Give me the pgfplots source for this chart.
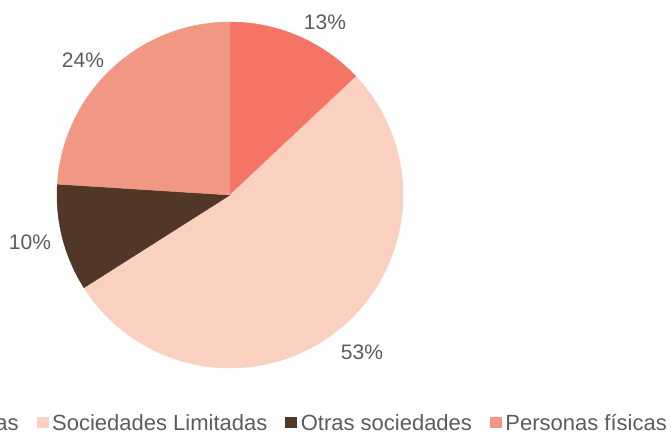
\documentclass[border=0pt]{standalone}
\usepackage{fontspec}
\setmainfont{Liberation Sans}
\usepackage{pgfplots}
\pgfplotsset{compat=1.18}

\definecolor{sanon}{RGB}{244,116,102}
\definecolor{slim}{RGB}{250,208,192}
\definecolor{otras}{RGB}{80,55,40}
\definecolor{pfis}{RGB}{240,152,132}
\definecolor{txt}{RGB}{92,92,92}

\begin{document}
\begin{tikzpicture}[x=1pt,y=1pt]
\path[use as bounding box, clip] (0,0) rectangle (671,437);
\begin{axis}[
  hide axis, scale only axis,
  width=346pt, height=346pt,
  xmin=-1, xmax=1, ymin=-1, ymax=1,
  at={(230pt,242pt)}, anchor=center,
  clip=false,
  legend columns=-1,
  legend image code/.code={\fill[#1] (0pt,-4.5pt) rectangle (11pt,6pt);},
  legend style={at={(axis description cs:1.763,-0.159)}, anchor=east,
    draw=none, fill=none, inner sep=0pt,
    font=\fontsize{22}{26}\selectfont, text=txt,
    nodes={inner sep=0pt},
    /tikz/every odd column/.append style={column sep=4pt},
    /tikz/every even column/.append style={column sep=18pt}},
]
% slices: 13, 53, 10, 24 percent, clockwise from the top (3.6 degrees per percent)
\addplot[fill=sanon, draw=sanon, line width=0.4pt, samples=60, domain=43.2:90]
  ({cos(x)},{sin(x)}) -- (axis cs:0,0) -- cycle;
\addplot[fill=slim, draw=slim, line width=0.4pt, samples=120, domain=-147.6:43.2]
  ({cos(x)},{sin(x)}) -- (axis cs:0,0) -- cycle;
\addplot[fill=otras, draw=otras, line width=0.4pt, samples=40, domain=-183.6:-147.6]
  ({cos(x)},{sin(x)}) -- (axis cs:0,0) -- cycle;
\addplot[fill=pfis, draw=pfis, line width=0.4pt, samples=80, domain=-270:-183.6]
  ({cos(x)},{sin(x)}) -- (axis cs:0,0) -- cycle;
\legend{Sociedades Anónimas, Sociedades Limitadas, Otras sociedades, Personas físicas}

\begin{scope}[every node/.style={font=\fontsize{21}{25}\selectfont, text=txt}]
\node at (axis cs:0.549,1.0) {13\%};
\node at (axis cs:-0.85,0.78) {24\%};
\node at (axis cs:-1.156,-0.272) {10\%};
\node at (axis cs:0.763,-0.907) {53\%};
\end{scope}
\end{axis}
\end{tikzpicture}
\end{document}
